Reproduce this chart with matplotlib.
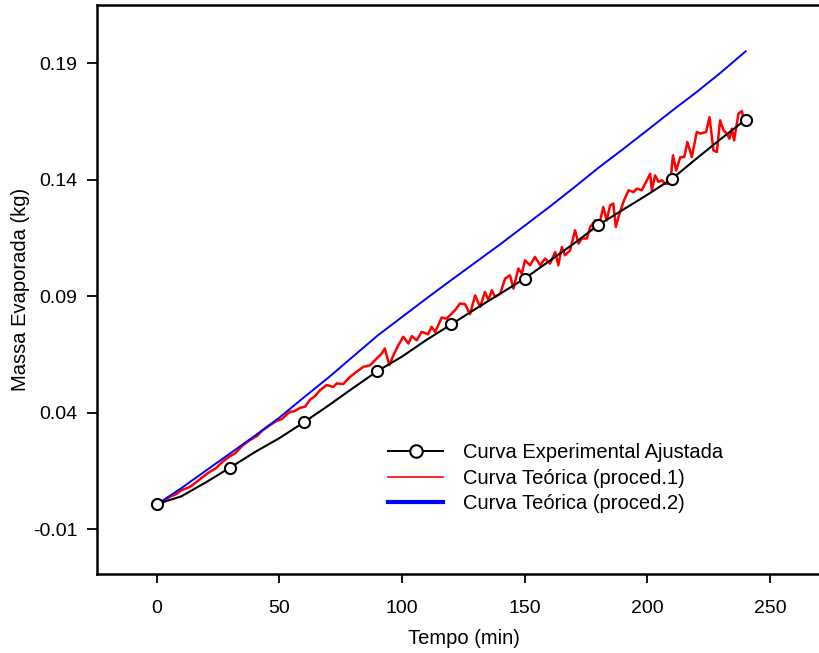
import matplotlib
matplotlib.use("Agg")
import matplotlib.pyplot as plt
from matplotlib.lines import Line2D

plt.rcParams['font.family'] = ['Liberation Sans', 'DejaVu Sans']

# curva experimental ajustada (a cada 10 min, marcador a cada 30 min)
exp_t = [0, 10, 20, 30, 40, 50, 60, 70, 80, 90, 100, 110, 120,
         130, 140, 150, 160, 170, 180, 190, 200, 210, 220, 230, 240]
exp_m = [0.0007, 0.0040, 0.0100, 0.0164, 0.0230, 0.0290, 0.0358, 0.0430,
         0.0505, 0.0578, 0.0640, 0.0712, 0.0778, 0.0845, 0.0910, 0.0975,
         0.1050, 0.1125, 0.1205, 0.1270, 0.1335, 0.1403, 0.1490, 0.1575,
         0.1657]

# curva teorica - procedimento 2
p2_t = [0, 10, 20, 30, 40, 50, 60, 70, 80, 90, 100, 110, 120,
        130, 140, 150, 160, 170, 180, 190, 200, 210, 220, 230, 240]
p2_m = [0.0005, 0.0075, 0.0150, 0.0225, 0.0300, 0.0378, 0.0465, 0.0550,
        0.0640, 0.0730, 0.0810, 0.0890, 0.0968, 0.1045, 0.1122, 0.1202,
        0.1282, 0.1365, 0.1450, 0.1530, 0.1612, 0.1695, 0.1775, 0.1860,
        0.1950]

# curva teorica - procedimento 1 (ruidosa)
p1_t = [0, 3, 5.4, 8, 10, 13.6, 16, 19, 21.7, 24, 27, 29.9, 32, 35, 38, 41,
        43, 46.2, 49, 51, 54.3, 56, 58.4, 60.5, 62.5, 64.5, 66.6, 69.3, 72,
        73.4, 76, 78.8, 81.5, 84.2, 87, 89.7, 91.7, 93, 94.8, 96.5, 98.5,
        100.5, 102.6, 104, 106, 108, 110.7, 112, 113.5, 116.2, 118, 119.6,
        121.6, 123.6, 125.7, 127.7, 129.8, 131.8, 133.8, 135.2, 136.6, 137.9,
        140, 142, 144, 145.4, 147.4, 148.8, 150.1, 152.2, 154.2, 156.3, 158.3,
        160.3, 162.4, 163.7, 165.1, 166.4, 168.5, 170.5, 171.9, 173.3, 175.3,
        176.7, 178.7, 180, 182, 183.4, 184.8, 186.1, 187.1, 188.2, 190.2,
        192.3, 194.3, 195.7, 197.7, 199.8, 201.1, 201.8, 203.1, 204.5, 205.9,
        207.2, 209.3, 210.4, 211.7, 213.4, 215, 216.3, 218.1, 220.1, 221.5,
        223.9, 225.3, 226.9, 228.3, 229.6, 231, 232.4, 233.4, 234.4, 235.3,
        237.1, 238.5, 239.4]
p1_m = [0.0005, 0.0022, 0.0039, 0.0050, 0.0066, 0.0081, 0.0100, 0.0125,
        0.0146, 0.0160, 0.0190, 0.0213, 0.0225, 0.0258, 0.0282, 0.0300,
        0.0322, 0.0346, 0.0365, 0.0372, 0.0403, 0.0405, 0.0420, 0.0425,
        0.0455, 0.0470, 0.0496, 0.0518, 0.0510, 0.0525, 0.0522, 0.0553,
        0.0575, 0.0596, 0.0603, 0.0632, 0.0653, 0.0675, 0.0603, 0.0646,
        0.0689, 0.0725, 0.0696, 0.0728, 0.0710, 0.0746, 0.0736, 0.0768,
        0.0746, 0.0808, 0.0803, 0.0818, 0.0839, 0.0868, 0.0865, 0.0822,
        0.0903, 0.0853, 0.0918, 0.0882, 0.0925, 0.0896, 0.0910, 0.0975,
        0.0989, 0.0932, 0.1018, 0.0996, 0.1053, 0.1032, 0.1068, 0.1032,
        0.1061, 0.1039, 0.1089, 0.1032, 0.1110, 0.1075, 0.1096, 0.1182,
        0.1125, 0.1147, 0.1147, 0.1196, 0.1225, 0.1190, 0.1282, 0.1225,
        0.1289, 0.1297, 0.1196, 0.1239, 0.1304, 0.1354, 0.1346, 0.1361,
        0.1354, 0.1397, 0.1425, 0.1354, 0.1418, 0.1390, 0.1397, 0.1382,
        0.1382, 0.1504, 0.1439, 0.1496, 0.1496, 0.1561, 0.1496, 0.1604,
        0.1597, 0.1604, 0.1668, 0.1525, 0.1518, 0.1654, 0.1611, 0.1597,
        0.1575, 0.1618, 0.1568, 0.1683, 0.1694, 0.1647]

xticks = [0, 50, 100, 150, 200, 250]
yticks = [-0.01, 0.04, 0.09, 0.14, 0.19]
labels = ['Curva Experimental Ajustada', 'Curva Teórica (proced.1)',
          'Curva Teórica (proced.2)']

fig = plt.figure(figsize=(8.2, 6.53), dpi=100)
# eixo propositalmente mais largo que a figura (lado direito cortado)
ax = fig.add_axes([97/820, 79/653, 734/820, 569/653])

ax.plot(p1_t, p1_m, color='#ff0000', lw=1.8, zorder=2)
ax.plot(p2_t, p2_m, color='#0000ff', lw=1.4, zorder=2.5)
ax.plot(exp_t, exp_m, color='black', lw=1.5, marker='o', markevery=3,
        ms=8, mfc='white', mec='black', mew=1.5, zorder=3)

ax.set_xlim(-24.3, 274.8)
ax.set_ylim(-0.0293, 0.2149)
ax.set_xticks(xticks)
ax.set_yticks(yticks)
ax.set_yticklabels([f'{v:.2f}' for v in yticks])

for side in ['left', 'bottom', 'top']:
    ax.spines[side].set_linewidth(1.8)
ax.spines['right'].set_visible(False)
ax.tick_params(axis='y', direction='out', length=7, width=1.3, pad=7,
               labelsize=14)
ax.tick_params(axis='x', direction='out', length=6.5, width=1.3, pad=12.5,
               labelsize=14)

ax.set_xlabel('Tempo (min)', fontsize=14.5, labelpad=8)
ax.set_ylabel('Massa Evaporada (kg)', fontsize=14.5, labelpad=2)

handles = [
    Line2D([], [], color='black', lw=1.4, marker='o', ms=9, mfc='white',
           mec='black', mew=1.5),
    Line2D([], [], color='#ff0000', lw=1.2),
    Line2D([], [], color='#0000ff', lw=3),
]
ax.legend(handles, labels, loc='upper left', frameon=False, fontsize=14.5,
          bbox_to_anchor=(388/820, 1 - 443/653), bbox_transform=fig.transFigure,
          borderpad=0, borderaxespad=0, handlelength=2.75, handletextpad=0.95,
          labelspacing=0.33)

fig.savefig('out.png', dpi=100)
